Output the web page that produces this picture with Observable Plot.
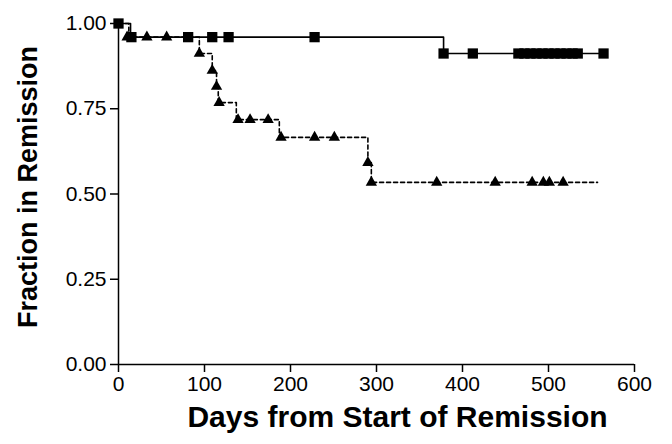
<!DOCTYPE html>
<html>
<head>
<meta charset="utf-8">
<script src="https://cdn.jsdelivr.net/npm/d3@7"></script>
<script src="https://cdn.jsdelivr.net/npm/@observablehq/plot@0.6"></script>
<style>
  html, body { margin: 0; padding: 0; background: #fff; }
</style>
</head>
<body>
<div id="chart"></div>
<script>
// Solid line (squares) — step curve
const sqLineDays = [0, 14, 378, 564];
const sqLineSurv = [1.00, 0.96, 0.912, 0.912];
// Square markers
const sqMarkDays = [0, 15, 81, 109, 128, 228, 378, 412, 465, 472, 479, 486, 493, 500, 507, 514, 521, 528, 534, 564];
const sqMarkSurv = [1.00, 0.96, 0.96, 0.96, 0.96, 0.96, 0.912, 0.912, 0.912, 0.912, 0.912, 0.912, 0.912, 0.912, 0.912, 0.912, 0.912, 0.912, 0.912, 0.912];

// Dashed line (triangles) — step curve
const triLineDays = [0, 12, 94, 109, 114, 116, 137, 187, 290, 294, 557];
const triLineSurv = [1.00, 0.96, 0.912, 0.862, 0.815, 0.768, 0.718, 0.666, 0.592, 0.534, 0.534];
// Triangle markers
const triMarkDays = [10, 33, 56, 94, 109, 114, 117, 139, 153, 174, 189, 228, 251, 290, 294, 370, 438, 481, 494, 501, 517];
const triMarkSurv = [0.96, 0.96, 0.96, 0.912, 0.862, 0.815, 0.768, 0.718, 0.718, 0.718, 0.666, 0.666, 0.666, 0.592, 0.534, 0.534, 0.534, 0.534, 0.534, 0.534, 0.534];

const xTicks = [0, 100, 200, 300, 400, 500, 600];
const yTicks = [0, 0.25, 0.5, 0.75, 1.0];
const xTitle = "Days from Start of Remission";
const yTitle = "Fraction in Remission";

const zip = (xs, ys) => xs.map((x, i) => ({x, y: ys[i]}));
const sqLine = zip(sqLineDays, sqLineSurv);
const sqMarks = zip(sqMarkDays, sqMarkSurv);
const triLine = zip(triLineDays, triLineSurv);
const triMarks = zip(triMarkDays, triMarkSurv);

const font = "'Liberation Sans', Arial, Helvetica, sans-serif";

const chart = Plot.plot({
  width: 672,
  height: 444,
  marginLeft: 118,
  marginRight: 38,
  marginTop: 23,
  marginBottom: 80,
  style: {fontFamily: font, fontSize: "21px", color: "#000", background: "#fff"},
  x: {domain: [0, 600]},
  y: {domain: [0, 1]},
  marks: [
    Plot.axisX({ticks: xTicks, tickSize: 8, tickPadding: 4, label: null, tickFormat: d3.format("d"), strokeWidth: 1.5, fontSize: 21}),
    Plot.axisY({ticks: yTicks, tickSize: 8, tickPadding: 4, label: null, tickFormat: d3.format(".2f"), strokeWidth: 1.5, fontSize: 21}),
    Plot.ruleY([0], {strokeWidth: 1.5}),
    Plot.ruleX([0], {strokeWidth: 1.5}),
    Plot.line(sqLine, {x: "x", y: "y", curve: "step-after", stroke: "#000", strokeWidth: 1.6}),
    Plot.line(triLine, {x: "x", y: "y", curve: "step-after", stroke: "#000", strokeWidth: 1.6, strokeDasharray: "4,3"}),
    Plot.dot(sqMarks, {x: "x", y: "y", symbol: "square", r: 5.8, fill: "#000", stroke: "none"}),
    Plot.dot(triMarks, {x: "x", y: "y", symbol: "triangle", r: 4.2, fill: "#000", stroke: "none"}),
    Plot.text([xTitle], {frameAnchor: "bottom", dy: 62, dx: 21, textAnchor: "middle", fontSize: 30, fontWeight: "bold", fontFamily: font}),
    Plot.text([yTitle], {frameAnchor: "left", dx: -90, dy: -7, rotate: -90, textAnchor: "middle", fontSize: 27, fontWeight: "bold", fontFamily: font})
  ]
});
document.getElementById("chart").appendChild(chart);
</script>
</body>
</html>
